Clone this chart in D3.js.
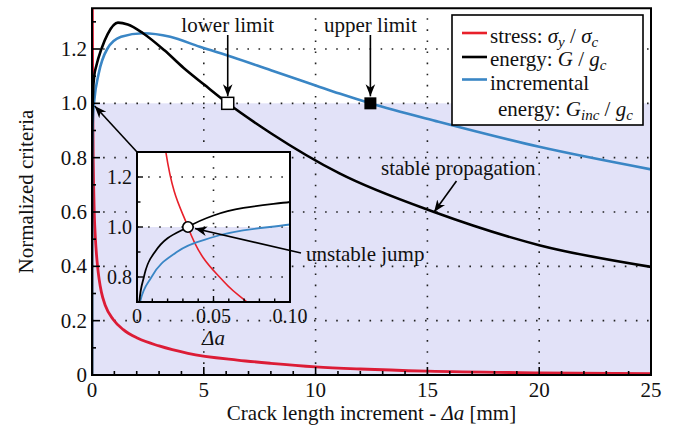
<!DOCTYPE html>
<html>
<head>
<meta charset="utf-8">
<script src="https://cdn.jsdelivr.net/npm/d3@7"></script>
<style>
  body { margin: 0; background: #fff; }
  svg text { font-family: "Liberation Serif", "Times New Roman", Times, serif; fill: #111; }
</style>
</head>
<body>
<svg id="chart" width="681" height="430" font-family="Liberation Serif, serif"></svg>
<script>
// Normalized criteria versus crack length increment Δa [mm]
const stress = [[0.006, 2.4], [0.010, 1.75], [0.0186, 1.31], [0.0333, 1.0], [0.057, 0.78], [0.072, 0.7],
  [0.1, 0.6], [0.15, 0.506], [0.19, 0.455], [0.25, 0.399], [0.32, 0.352], [0.42, 0.305], [0.6, 0.255],
  [0.94, 0.205], [1.4, 0.167], [2.05, 0.135], [3, 0.107], [4.29, 0.08], [6.5, 0.055], [8, 0.043],
  [10, 0.03], [12, 0.022], [15, 0.014], [20, 0.008], [25, 0.005]];
const energy = [[0, 0], [0.0003, 0.6], [0.0015, 0.7], [0.0045, 0.8], [0.0117, 0.9], [0.0333, 1.0],
  [0.05, 1.046], [0.1, 1.10], [0.2, 1.14], [0.42, 1.2], [0.7, 1.255], [1.16, 1.297], [1.6, 1.29],
  [2.28, 1.258], [3.24, 1.195], [4.1, 1.13], [5.03, 1.068], [6.07, 1.0], [8, 0.89],
  [11.07, 0.742], [15.3, 0.6], [20, 0.478], [25, 0.398]];
const incremental = [[0, 0], [0.0005, 0.6], [0.002, 0.7], [0.0095, 0.8], [0.026, 0.9], [0.05, 0.96],
  [0.1, 1.01], [0.3, 1.11], [0.68, 1.2], [1.3, 1.245], [2.28, 1.258], [3.5, 1.245], [4.82, 1.208],
  [6.3, 1.17], [8, 1.122], [10, 1.066], [11.07, 1.036], [12.45, 1.0], [15.5, 0.932], [20, 0.84], [25, 0.757]];

const xTicks = [0, 5, 10, 15, 20, 25];
const yTicks = [0, 0.2, 0.4, 0.6, 0.8, 1.0, 1.2];
const yTickLabels = ["0", "0.2", "0.4", "0.6", "0.8", "1.0", "1.2"];
const insetXTicks = [0, 0.05, 0.10];
const insetXTickLabels = ["0", "0.05", "0.10"];
const insetYTicks = [0.8, 1.0, 1.2];
const insetYTickLabels = ["0.8", "1.0", "1.2"];

const lowerLimit = [6.07, 1.0];
const upperLimit = [12.45, 1.0];
const unstableJump = [0.0333, 1.0];

const colors = { stress: "#dc1c36", energy: "#000000", incremental: "#3a86c5" };
const shade = "#e2e2f8";

const svg = d3.select("#chart");

// Main axes
const x = d3.scaleLinear().domain([0, 25]).range([92, 651]);
const y = d3.scaleLinear().domain([0, 1.35]).range([375, 8.25]);

// Inset axes
const xi = d3.scaleLinear().domain([0, 0.1]).range([137, 290]);
const yi = d3.scaleLinear().domain([0.7, 1.3]).range([302, 152]);

const defs = svg.append("defs");
defs.append("clipPath").attr("id", "clipMain").append("rect")
  .attr("x", x(0)).attr("y", y(1.35)).attr("width", x(25) - x(0)).attr("height", y(0) - y(1.35));
defs.append("clipPath").attr("id", "clipInset").append("rect")
  .attr("x", xi(0)).attr("y", yi(1.3)).attr("width", xi(0.1) - xi(0)).attr("height", yi(0.7) - yi(1.3));
defs.append("marker").attr("id", "arrow").attr("viewBox", "-12 -6 14 12")
  .attr("markerUnits", "userSpaceOnUse").attr("markerWidth", 14).attr("markerHeight", 12)
  .attr("refX", 0).attr("refY", 0).attr("orient", "auto")
  .append("path").attr("d", "M0,0 L-12,-4.8 L-8.5,0 L-12,4.8 Z").attr("fill", "#000");

const dotted = { stroke: "#222", "stroke-width": 1.6, "stroke-dasharray": "1.6,9.5" };
function applyAttrs(sel, attrs) { Object.entries(attrs).forEach(([k, v]) => sel.attr(k, v)); return sel; }

// Shaded region below 1.0
svg.append("rect").attr("x", x(0)).attr("y", y(1.0))
  .attr("width", x(25) - x(0)).attr("height", y(0) - y(1.0)).attr("fill", shade);

// Grid
const grid = svg.append("g");
[5, 10, 15, 20].forEach(v => applyAttrs(grid.append("line")
  .attr("x1", x(v)).attr("x2", x(v)).attr("y1", y(0)).attr("y2", y(1.35)), dotted));
[0.2, 0.4, 0.6, 0.8, 1.0, 1.2].forEach(v => applyAttrs(grid.append("line")
  .attr("x1", x(0)).attr("x2", x(25)).attr("y1", y(v)).attr("y2", y(v)), dotted));

// Curves
const lineMain = d3.line().x(d => x(d[0])).y(d => y(d[1])).curve(d3.curveMonotoneX);
const curves = svg.append("g").attr("clip-path", "url(#clipMain)");
curves.append("path").datum(stress).attr("d", lineMain).attr("fill", "none")
  .attr("stroke", colors.stress).attr("stroke-width", 2.8);
curves.append("path").datum(incremental).attr("d", lineMain).attr("fill", "none")
  .attr("stroke", colors.incremental).attr("stroke-width", 2.6);
curves.append("path").datum(energy).attr("d", lineMain).attr("fill", "none")
  .attr("stroke", colors.energy).attr("stroke-width", 2.6);

// Inset panel
const inset = svg.append("g");
inset.append("rect").attr("x", xi(0)).attr("y", yi(1.3))
  .attr("width", xi(0.1) - xi(0)).attr("height", yi(0.7) - yi(1.3)).attr("fill", "#fff");
inset.append("rect").attr("x", xi(0)).attr("y", yi(1.0))
  .attr("width", xi(0.1) - xi(0)).attr("height", yi(0.7) - yi(1.0)).attr("fill", shade);
applyAttrs(inset.append("line").attr("x1", xi(0.05)).attr("x2", xi(0.05))
  .attr("y1", yi(0.7)).attr("y2", yi(1.3)), dotted);
insetYTicks.forEach(v => applyAttrs(inset.append("line").attr("x1", xi(0)).attr("x2", xi(0.1))
  .attr("y1", yi(v)).attr("y2", yi(v)), dotted));
const lineInset = d3.line().x(d => xi(d[0])).y(d => yi(d[1])).curve(d3.curveMonotoneX);
const insetCurves = inset.append("g").attr("clip-path", "url(#clipInset)");
insetCurves.append("path").datum(stress).attr("d", lineInset).attr("fill", "none")
  .attr("stroke", "#e8202a").attr("stroke-width", 1.6);
insetCurves.append("path").datum(incremental).attr("d", lineInset).attr("fill", "none")
  .attr("stroke", colors.incremental).attr("stroke-width", 1.8);
insetCurves.append("path").datum(energy).attr("d", lineInset).attr("fill", "none")
  .attr("stroke", colors.energy).attr("stroke-width", 1.8);
inset.append("rect").attr("x", xi(0)).attr("y", yi(1.3))
  .attr("width", xi(0.1) - xi(0)).attr("height", yi(0.7) - yi(1.3))
  .attr("fill", "none").attr("stroke", "#000").attr("stroke-width", 2);
d3.range(0, 11).forEach(i => {
  const v = i / 100, major = i % 5 === 0;
  inset.append("line").attr("x1", xi(v)).attr("x2", xi(v))
    .attr("y1", yi(0.7)).attr("y2", yi(0.7) - (major ? 6 : 3.5)).attr("stroke", "#000").attr("stroke-width", 1.4);
});
d3.range(7, 14).forEach(i => {
  const v = i / 10, major = i % 2 === 0;
  inset.append("line").attr("x1", xi(0)).attr("x2", xi(0) + (major ? 6 : 3.5))
    .attr("y1", yi(v)).attr("y2", yi(v)).attr("stroke", "#000").attr("stroke-width", 1.4);
});
insetXTicks.forEach((v, i) => inset.append("text").attr("x", xi(v)).attr("y", 323)
  .attr("text-anchor", "middle").attr("font-size", 20).text(insetXTickLabels[i]));
insetYTicks.forEach((v, i) => inset.append("text").attr("x", xi(0) - 5).attr("y", yi(v) + 7)
  .attr("text-anchor", "end").attr("font-size", 20).text(insetYTickLabels[i]));
inset.append("text").attr("x", xi(0.05)).attr("y", 345).attr("text-anchor", "middle")
  .attr("font-size", 21).attr("font-style", "italic").text("Δa");
inset.append("circle").attr("cx", xi(unstableJump[0])).attr("cy", yi(unstableJump[1])).attr("r", 5.2)
  .attr("fill", "#fff").attr("stroke", "#000").attr("stroke-width", 1.6);

// Limit markers
svg.append("rect").attr("x", x(lowerLimit[0]) - 6).attr("y", y(lowerLimit[1]) - 6)
  .attr("width", 12).attr("height", 12).attr("fill", "#fff").attr("stroke", "#000").attr("stroke-width", 1.5);
svg.append("rect").attr("x", x(upperLimit[0]) - 6).attr("y", y(upperLimit[1]) - 6)
  .attr("width", 12).attr("height", 12).attr("fill", "#000");

// Annotations
function arrow(x1, y1, x2, y2) {
  svg.append("line").attr("x1", x1).attr("y1", y1).attr("x2", x2).attr("y2", y2)
    .attr("stroke", "#000").attr("stroke-width", 1.6).attr("marker-end", "url(#arrow)");
}
arrow(x(lowerLimit[0]), 35, x(lowerLimit[0]), y(lowerLimit[1]) - 7);
arrow(x(upperLimit[0]), 35, x(upperLimit[0]), y(upperLimit[1]) - 7);
arrow(x(16.3), 181, x(15.3), y(0.6));
arrow(301, 253, xi(unstableJump[0]) + 7, yi(unstableJump[1]) + 1.5);
arrow(xi(0), yi(1.3), x(0.12), y(0.99));

const ann = svg.append("g").attr("font-size", 21);
ann.append("text").attr("x", x(lowerLimit[0])).attr("y", 32).attr("text-anchor", "middle").text("lower limit");
ann.append("text").attr("x", x(upperLimit[0])).attr("y", 32).attr("text-anchor", "middle").text("upper limit");
ann.append("text").attr("x", 381).attr("y", 175).text("stable propagation");
ann.append("text").attr("x", 306).attr("y", 261).text("unstable jump");

// Legend
const lg = svg.append("g");
lg.append("rect").attr("x", 452).attr("y", 15).attr("width", 191).attr("height", 110)
  .attr("fill", "#fff").attr("stroke", "#000").attr("stroke-width", 1.6);
[["#e8202a", 33], [colors.energy, 57], [colors.incremental, 79.5]].forEach(([c, ly]) =>
  lg.append("line").attr("x1", 462).attr("x2", 487).attr("y1", ly).attr("y2", ly)
    .attr("stroke", c).attr("stroke-width", 2.6));
function legendText(tx, ty, parts) {
  const t = lg.append("text").attr("x", tx).attr("y", ty).attr("font-size", 21);
  parts.forEach(p => {
    const s = t.append("tspan").text(p.t);
    if (p.i) s.attr("font-style", "italic");
    if (p.sub) s.attr("font-size", 15).attr("baseline-shift", "-25%");
  });
}
legendText(490, 43, [{ t: "stress: " }, { t: "σ", i: 1 }, { t: "y", i: 1, sub: 1 }, { t: " / " },
  { t: "σ", i: 1 }, { t: "c", i: 1, sub: 1 }]);
legendText(490, 66, [{ t: "energy: " }, { t: "G", i: 1 }, { t: " / " }, { t: "g", i: 1 }, { t: "c", i: 1, sub: 1 }]);
legendText(490, 90, [{ t: "incremental" }]);
legendText(498, 116, [{ t: "energy: " }, { t: "G", i: 1 }, { t: "inc", i: 1, sub: 1 }, { t: " / " },
  { t: "g", i: 1 }, { t: "c", i: 1, sub: 1 }]);

// Frame and ticks
svg.append("rect").attr("x", x(0)).attr("y", y(1.35)).attr("width", x(25) - x(0)).attr("height", y(0) - y(1.35))
  .attr("fill", "none").attr("stroke", "#000").attr("stroke-width", 2);
d3.range(0, 26).forEach(v => svg.append("line").attr("x1", x(v)).attr("x2", x(v))
  .attr("y1", y(0)).attr("y2", y(0) - (v % 5 === 0 ? 8 : 4)).attr("stroke", "#000").attr("stroke-width", 1.6));
d3.range(0, 14).forEach(i => svg.append("line").attr("x1", x(0)).attr("x2", x(0) + (i % 2 === 0 ? 8 : 4))
  .attr("y1", y(i / 10)).attr("y2", y(i / 10)).attr("stroke", "#000").attr("stroke-width", 1.6));

const axisText = svg.append("g").attr("font-size", 21);
xTicks.forEach(v => axisText.append("text").attr("x", x(v)).attr("y", 397).attr("text-anchor", "middle").text(v));
yTicks.forEach((v, i) => axisText.append("text").attr("x", 87).attr("y", y(v) + 7)
  .attr("text-anchor", "end").text(yTickLabels[i]));
const xt = axisText.append("text").attr("x", (x(0) + x(25)) / 2).attr("y", 420).attr("text-anchor", "middle");
xt.append("tspan").text("Crack length increment - ");
xt.append("tspan").attr("font-style", "italic").text("Δa");
xt.append("tspan").text(" [mm]");
axisText.append("text").attr("transform", "translate(33,191.5) rotate(-90)").attr("text-anchor", "middle")
  .text("Normalized criteria");
</script>
</body>
</html>
